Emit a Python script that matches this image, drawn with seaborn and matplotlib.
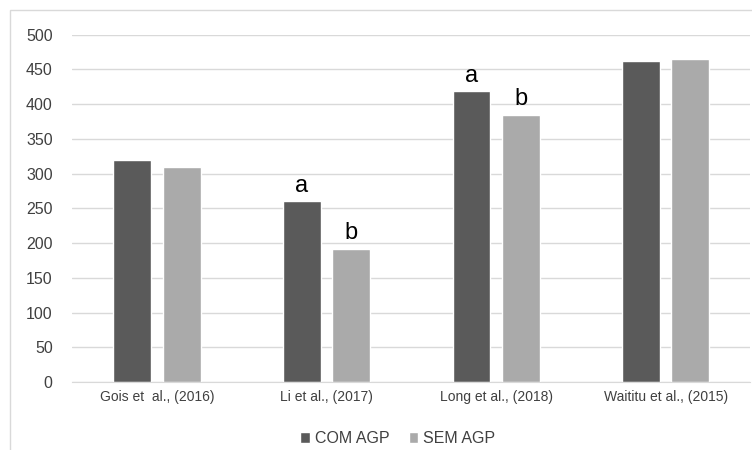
import matplotlib
matplotlib.use("Agg")
import matplotlib.pyplot as plt
import pandas as pd
import seaborn as sns
from matplotlib.patches import Rectangle

# data
studies = ["Gois et  al., (2016)", "Li et al., (2017)", "Long et al., (2018)", "Waititu et al., (2015)"]
com_agp = [320, 261, 419, 462]
sem_agp = [309, 192, 385, 465]
groups = ["COM AGP", "SEM AGP"]
letters_com = ["", "a", "a", ""]
letters_sem = ["", "b", "b", ""]

df = pd.DataFrame({
    "study": studies * 2,
    "grupo": [groups[0]] * 4 + [groups[1]] * 4,
    "valor": com_agp + sem_agp,
})

sns.set_style("white")
plt.rcParams["font.family"] = ["Liberation Sans", "DejaVu Sans"]

fig = plt.figure(figsize=(7.52, 4.5), dpi=100)
ax = fig.add_axes([0.096, 0.151, 0.902, 0.772])

# light frame around the whole chart
fig.patches.append(Rectangle((10 / 752, -0.1), 1.2, 1 - 10 / 450 + 0.1,
                             transform=fig.transFigure, fill=False,
                             edgecolor="#d9d9d9", linewidth=1.0))

sns.barplot(data=df, x="study", y="valor", hue="grupo",
            palette=["#5a5a5a", "#aaaaaa"], width=0.58, gap=0.23,
            saturation=1, ax=ax, legend=True)

ax.set_ylim(0, 500)
ax.set_xlim(-0.5, 3.5)
ax.set_yticks(range(0, 501, 50))
ax.yaxis.grid(True, color="#d9d9d9", linewidth=1.0)
ax.set_axisbelow(True)
for s in ["top", "right", "left"]:
    ax.spines[s].set_visible(False)
ax.spines["bottom"].set_color("#d9d9d9")
ax.set_xlabel("")
ax.set_ylabel("")
ax.tick_params(axis="y", length=0, labelsize=11.5, labelcolor="#404040", pad=14)
ax.tick_params(axis="x", length=0, labelsize=10, labelcolor="#404040", pad=6)

# significance letters above the bars
off = 0.58 / 4
for i in range(len(studies)):
    if letters_com[i]:
        ax.text(i - off, com_agp[i] + 6, letters_com[i], ha="center", va="bottom",
                fontsize=17, color="black")
    if letters_sem[i]:
        ax.text(i + off, sem_agp[i] + 6, letters_sem[i], ha="center", va="bottom",
                fontsize=17, color="black")

leg = ax.legend(loc="upper center", bbox_to_anchor=(0.48, -0.1), ncol=2,
                frameon=False, fontsize=11.5, handlelength=0.6, handleheight=0.6,
                handletextpad=0.3, columnspacing=1.2)
for t in leg.get_texts():
    t.set_color("#404040")

fig.savefig("out.png", dpi=100)
